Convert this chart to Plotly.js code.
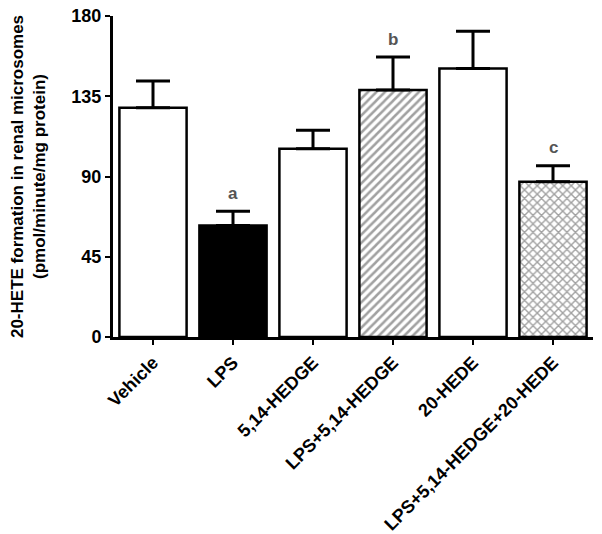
<!DOCTYPE html>
<html>
<head>
<meta charset="utf-8">
<script src="https://cdn.plot.ly/plotly-3.0.1.min.js"></script>
<style>html,body{margin:0;padding:0;background:#fff;}#chart{width:602px;height:534px;}</style>
</head>
<body>
<div id="chart"></div>
<script>
var categories = ["Vehicle", "LPS", "5,14-HEDGE", "LPS+5,14-HEDGE", "20-HEDE", "LPS+5,14-HEDGE+20-HEDE"];
var means = [128.5, 62.5, 105.5, 138.5, 150.5, 87];
var errors = [15, 8, 10.5, 18.5, 21, 9];
var letters = ["", "a", "", "b", "", "c"];
var fillColors = ["white", "black", "white", "white", "white", "white"];
var patterns = ["", "", "", "/", "", "x"];
var yTicks = [0, 45, 90, 135, 180];

var FONT = "Arial, 'Liberation Sans', sans-serif";

var trace = {
  type: "bar",
  x: categories,
  y: means,
  width: 0.84,
  marker: {
    color: fillColors,
    line: {color: "black", width: 2.5},
    pattern: {shape: patterns, fgcolor: "black", bgcolor: "white", size: 6, solidity: 0.42, fillmode: "overlay"}
  },
  error_y: {
    type: "data",
    symmetric: false,
    array: errors,
    arrayminus: errors.map(function(){return 0;}),
    color: "black",
    thickness: 3,
    width: 17
  },
  hoverinfo: "none"
};

var annotations = [];
for (var i = 0; i < categories.length; i++) {
  if (letters[i]) {
    annotations.push({
      x: categories[i], y: means[i] + errors[i], xref: "x", yref: "y",
      text: letters[i], showarrow: false, yshift: 18,
      font: {family: FONT, size: 17, color: "#555", weight: "bold"}
    });
  }
}

var layout = {
  width: 602, height: 534,
  margin: {l: 113, r: 9, t: 16, b: 197},
  paper_bgcolor: "white", plot_bgcolor: "white",
  showlegend: false,
  font: {family: FONT, color: "black"},
  xaxis: {
    type: "category",
    range: [-0.5, 5.5],
    showline: true, linecolor: "black", linewidth: 3,
    ticks: "outside", ticklen: 5, tickwidth: 2, tickcolor: "black",
    tickangle: -45,
    tickfont: {family: FONT, size: 18, color: "black", weight: "bold"},
    showgrid: false, zeroline: false, fixedrange: true
  },
  yaxis: {
    range: [0, 180],
    tickvals: yTicks,
    ticktext: yTicks.map(String),
    showline: true, linecolor: "black", linewidth: 3,
    ticks: "outside", ticklen: 5, tickwidth: 2, tickcolor: "black",
    tickfont: {family: FONT, size: 18, color: "black", weight: "bold"},
    showgrid: false, zeroline: false,
    title: {text: "20-HETE formation in renal microsomes<br>(pmol/minute/mg protein)", font: {family: FONT, size: 17, color: "black", weight: "bold"}, standoff: 22}
  },
  annotations: annotations
};

Plotly.newPlot("chart", [trace], layout, {staticPlot: true, displayModeBar: false});
</script>
</body>
</html>
